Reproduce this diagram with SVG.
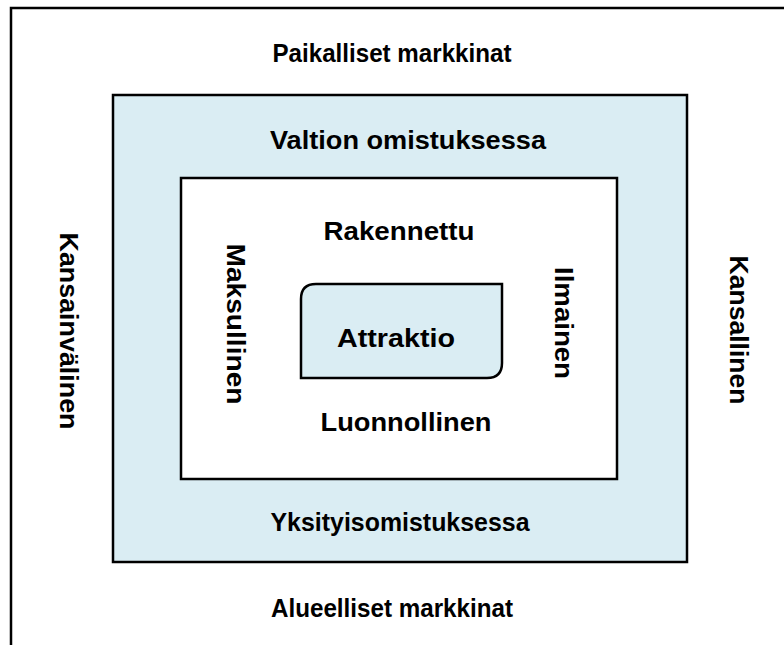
<svg xmlns="http://www.w3.org/2000/svg" width="784" height="645" viewBox="0 0 784 645">
<style>
.lbl{font-family:"Liberation Sans",Arial,sans-serif;font-weight:bold;font-size:26px;fill:#000;text-anchor:middle}
.frame{fill:none;stroke:#000;stroke-width:2.5}
.box{stroke:#000;stroke-width:2.5}
</style>
<rect width="784" height="645" fill="#fff"/>
<g id="frame">
<path class="frame" d="M11,645 V8 H784"/>
</g>
<g id="outer-region">
<rect class="box" x="113" y="95" width="574" height="467" fill="#daedf3"/>
</g>
<g id="inner-region">
<rect class="box" x="181" y="178" width="436" height="301" fill="#fff"/>
</g>
<g id="attraktio">
<path class="box" fill="#daedf3" d="M316,284 H502 V363 Q502,378 487,378 H301 V299 Q301,284 316,284 Z"/>
<text class="lbl" x="396" y="347" textLength="118" lengthAdjust="spacingAndGlyphs">Attraktio</text>
</g>
<g id="labels">
<text class="lbl" x="392" y="62" textLength="239" lengthAdjust="spacingAndGlyphs">Paikalliset markkinat</text>
<text class="lbl" x="408" y="149" textLength="276" lengthAdjust="spacingAndGlyphs">Valtion omistuksessa</text>
<text class="lbl" x="399" y="240" textLength="151" lengthAdjust="spacingAndGlyphs">Rakennettu</text>
<text class="lbl" x="406" y="431" textLength="171" lengthAdjust="spacingAndGlyphs">Luonnollinen</text>
<text class="lbl" x="400" y="531" textLength="259" lengthAdjust="spacingAndGlyphs">Yksityisomistuksessa</text>
<text class="lbl" x="392" y="617" textLength="242" lengthAdjust="spacingAndGlyphs">Alueelliset markkinat</text>
<text class="lbl" transform="translate(60,331) rotate(90)" textLength="197" lengthAdjust="spacingAndGlyphs">Kansainvälinen</text>
<text class="lbl" transform="translate(227,324) rotate(90)" textLength="161" lengthAdjust="spacingAndGlyphs">Maksullinen</text>
<text class="lbl" transform="translate(555,323) rotate(90)" textLength="112" lengthAdjust="spacingAndGlyphs">Ilmainen</text>
<text class="lbl" transform="translate(730,330) rotate(90)" textLength="149" lengthAdjust="spacingAndGlyphs">Kansallinen</text>
</g>
<g id="connectors"></g>
</svg>
